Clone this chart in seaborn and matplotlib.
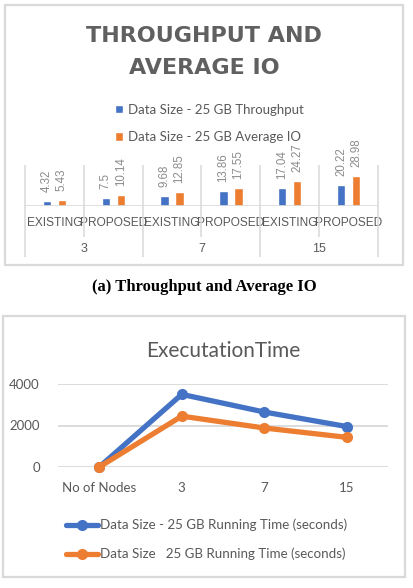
import matplotlib
matplotlib.use("Agg")
import matplotlib.pyplot as plt
import seaborn as sns
import pandas as pd
from matplotlib.patches import Rectangle

# ---------------- data ----------------
nodes_groups = ["3", "7", "15"]
methods = ["EXISTING", "PROPOSED"]
throughput = [4.32, 7.5, 9.68, 13.86, 17.04, 20.22]
average_io = [5.43, 10.14, 12.85, 17.55, 24.27, 28.98]
bar_series = ["Data Size - 25 GB Throughput", "Data Size - 25 GB Average IO"]

line_x = ["No of Nodes", "3", "7", "15"]
run_time_a = [0, 3500, 2650, 1950]
run_time_b = [0, 2450, 1880, 1430]
line_series = ["Data Size - 25 GB Running Time (seconds)",
               "Data Size   25 GB Running Time (seconds)"]

BLUE = "#4472C4"
ORANGE = "#ED7D31"
GRAY = "#595959"
LIGHT = "#D9D9D9"

sns.set_theme(style="white")
plt.rcParams["font.family"] = ["Lato", "DejaVu Sans"]

W, H = 414, 588
fig = plt.figure(figsize=(W / 100, H / 100), dpi=100)


def fx(x):
    return x / W


def fy(y):
    return 1 - y / H


# outer borders
fig.add_artist(Rectangle((fx(5), fy(265)), fx(398), 260 / H, transform=fig.transFigure,
                         fill=False, edgecolor=LIGHT, lw=1.6))
fig.add_artist(Rectangle((fx(3), fy(577)), fx(402), 261 / H, transform=fig.transFigure,
                         fill=False, edgecolor=LIGHT, lw=1.6))

# ---------------- top chart: bars ----------------
slots = [f"{g} {m}" for g in nodes_groups for m in methods]
df_bar = pd.DataFrame({
    "slot": slots * 2,
    "value": throughput + average_io,
    "series": [bar_series[0]] * 6 + [bar_series[1]] * 6,
})

ax1 = fig.add_axes([fx(25), fy(205.7), fx(353), 65.7 / H])
sns.barplot(data=df_bar, x="slot", y="value", hue="series", order=slots,
            hue_order=bar_series, palette=[BLUE, ORANGE], width=0.51, gap=0.45,
            saturation=1, ax=ax1, legend=True)
ax1.set_xlim(-0.5, 5.5)
ax1.set_ylim(0, 63.8)
for s in ax1.spines.values():
    s.set_visible(False)
ax1.set_yticks([])
ax1.set_xlabel("")
ax1.set_ylabel("")
for cont in ax1.containers:
    ax1.bar_label(cont, fmt="%g", padding=6.5, rotation=90, fontsize=8.3,
                  color="#8C8C8C", family="Liberation Sans")

ax1.axhline(0, color=LIGHT, lw=1.2)
xt = ax1.get_xaxis_transform()
ax1.vlines([-0.5, 1.5, 3.5, 5.5], -0.78, 0.62, transform=xt, color=LIGHT, lw=1.1, clip_on=False)
ax1.vlines([0.5, 2.5, 4.5], -0.476, 0.62, transform=xt, color=LIGHT, lw=1.1, clip_on=False)
ax1.set_xticks(range(6))
ax1.set_xticklabels(methods * 3, fontsize=8.6, color=GRAY, family="Liberation Sans")
ax1.tick_params(axis="x", length=0, pad=8)
for i, g in enumerate(nodes_groups):
    ax1.text(2 * i + 0.5, -0.66, g, transform=xt, ha="center", va="center",
             fontsize=9, color=GRAY, family="Liberation Sans")

h, l = ax1.get_legend_handles_labels()
ax1.legend(h, l, loc="upper left", bbox_to_anchor=(fx(108), fy(97)),
           bbox_transform=fig.transFigure, frameon=False, ncol=1,
           handlelength=0.65, handleheight=0.65, handletextpad=0.35,
           labelspacing=1.15, fontsize=9.5, labelcolor=GRAY, borderpad=0)

fig.text(fx(204), fy(52), "THROUGHPUT AND\nAVERAGE IO", ha="center", va="center",
         fontsize=16, fontweight="bold", color="#606060", linespacing=1.8,
         family=["DejaVu Sans"])

fig.text(fx(204), fy(287), "(a) Throughput and Average IO", ha="center", va="center",
         fontsize=12, fontweight="bold", color="black", family="Liberation Serif")

# ---------------- bottom chart: lines ----------------
df_line = pd.DataFrame({
    "x": line_x * 2,
    "time": run_time_a + run_time_b,
    "series": [line_series[0]] * 4 + [line_series[1]] * 4,
})
ax2 = fig.add_axes([fx(58), fy(467), fx(330), 83 / H])
sns.lineplot(data=df_line, x="x", y="time", hue="series", hue_order=line_series,
             palette=[BLUE, ORANGE], sort=False, marker="o", markersize=8,
             markeredgewidth=0, linewidth=3.8, ax=ax2)
for ln in ax2.lines:
    ln.set_clip_on(False)
ax2.set_xlim(-0.5, 3.5)
ax2.set_ylim(0, 4000)
ax2.set_yticks([0, 2000, 4000])
ax2.grid(axis="y", color=LIGHT, lw=1.3)
ax2.grid(axis="x", visible=False)
ax2.set_axisbelow(True)
for s in ax2.spines.values():
    s.set_visible(False)
ax2.set_xlabel("")
ax2.set_ylabel("")
ax2.tick_params(axis="both", length=0, labelsize=9.5, labelcolor=GRAY)
ax2.tick_params(axis="y", pad=13)
ax2.tick_params(axis="x", pad=11)
ax2.set_title("ExecutationTime", fontsize=15, color=GRAY, pad=0, y=1 + 27 / 83)

h2, l2 = ax2.get_legend_handles_labels()
ax2.legend(h2, l2, loc="center left", bbox_to_anchor=(fx(59), fy(539.5)),
           bbox_transform=fig.transFigure, frameon=False, ncol=1,
           handlelength=2.45, handletextpad=0.15, labelspacing=1.25,
           fontsize=9.6, labelcolor=GRAY, borderpad=0)

fig.savefig("out.png", dpi=100)
